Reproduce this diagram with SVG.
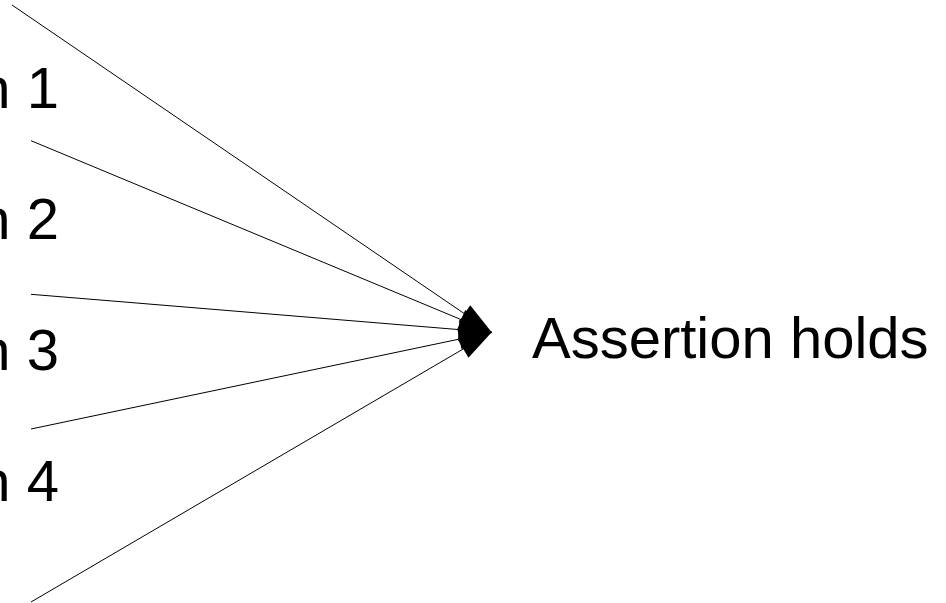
<svg xmlns="http://www.w3.org/2000/svg" width="946" height="603" viewBox="0 0 946 603">
  <style>
    .lbl { font-family: "Liberation Sans", Arial, sans-serif; font-size: 58px; fill: #000; }
    .in { text-anchor: end; }
    .edge { stroke: #000; stroke-width: 1; fill: none; marker-end: url(#head); }
  </style>
  <defs>
    <!-- filled arrowhead; tip sits on the line end -->
    <marker id="head" markerUnits="userSpaceOnUse" markerWidth="40" markerHeight="24"
            viewBox="0 -12 34 24" refX="33" refY="0" orient="auto" overflow="visible">
      <path d="M0,-10.3 L33,0 L0,10.3 Z" fill="#000"/>
    </marker>
  </defs>

  <rect width="946" height="603" fill="#fff"/>

  <!-- input labels, partly cut off at the left edge -->
  <g id="cond1"><text class="lbl in" x="59" y="107.5">n 1</text></g>
  <g id="cond2"><text class="lbl in" x="59" y="238.5">n 2</text></g>
  <g id="cond3"><text class="lbl in" x="59" y="370">n 3</text></g>
  <g id="cond4"><text class="lbl in" x="59" y="501">n 4</text></g>

  <!-- result label -->
  <g id="result"><text class="lbl" x="532" y="357.5">Assertion holds</text></g>

  <!-- connectors converging on one point -->
  <g id="connectors">
    <line class="edge" x1="12" y1="5" x2="491.7" y2="332.3"/>
    <line class="edge" x1="31" y1="140.7" x2="491.7" y2="332.3"/>
    <line class="edge" x1="31" y1="294.3" x2="491.7" y2="332.3"/>
    <line class="edge" x1="31" y1="429" x2="491.7" y2="332.3"/>
    <line class="edge" x1="31" y1="602" x2="491.7" y2="332.3"/>
  </g>
</svg>
